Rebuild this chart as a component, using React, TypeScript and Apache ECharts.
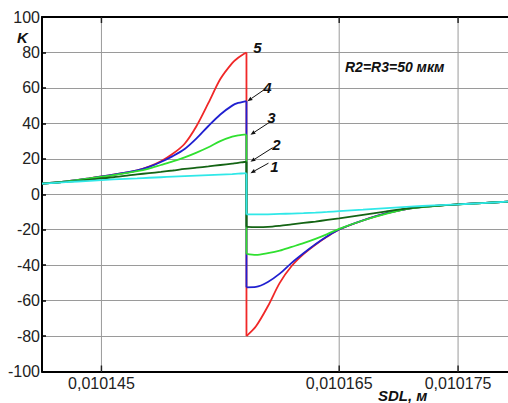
import React, { useEffect, useRef } from "react";
import * as echarts from "echarts";

// x positions (SDL, m)
const xLeft = [0.01014, 0.010142, 0.010144, 0.010146, 0.010148, 0.010149, 0.01015, 0.010151, 0.010152, 0.010153, 0.010154, 0.010155, 0.010156, 0.0101565, 0.010157, 0.0101572];
const xRight = [0.0101572, 0.010158, 0.010159, 0.01016, 0.010161, 0.010162, 0.010163, 0.010164, 0.010165, 0.010167, 0.010169, 0.010171, 0.010173, 0.010175, 0.010177, 0.0101792];
const xJump = 0.0101572;

// curve values (K)
const k5Left = [6, 7.2, 9.0, 11.0, 13.5, 15.6, 18.6, 22.8, 28.5, 38.5, 51.5, 65.0, 74, 77, 79.3, 80];
const k5Right = [-80, -74.5, -63.2, -50.0, -40.5, -33.8, -28.5, -23.9, -19.9, -14.8, -10.7, -7.9, -6.6, -5.7, -5.0, -4.2];
const k4Left = [6, 7.2, 9.0, 11.0, 13.4, 15.4, 18.2, 21.5, 25.5, 31.5, 38.5, 45, 50, 51.5, 52.3, 52.5];
const k4Right = [-52.5, -52.3, -49.5, -44.8, -38.7, -33.3, -28.2, -23.7, -19.8, -14.7, -10.7, -7.9, -6.6, -5.7, -5.0, -4.2];
const k3Left = [6, 7.2, 9.0, 10.8, 13.0, 14.5, 16.5, 18.5, 20.8, 23.5, 26.5, 30.0, 32.5, 33.2, 33.6, 33.6];
const k3Right = [-33.6, -34.2, -33.2, -31.8, -29.7, -27.6, -25.2, -22.5, -19.5, -14.8, -10.9, -8.0, -6.7, -5.7, -5.0, -4.2];
const k2Left = [6, 7.0, 8.3, 9.6, 11.2, 11.9, 12.6, 13.4, 14.3, 15.0, 15.7, 16.5, 17.3, 17.7, 18.2, 18.3];
const k2Right = [-18.4, -18.5, -18.4, -17.8, -17.0, -16.2, -15.4, -14.5, -13.6, -11.6, -9.6, -7.8, -6.6, -5.7, -5.0, -4.2];
const k1Left = [6, 6.8, 7.6, 8.4, 9.0, 9.3, 9.6, 9.9, 10.2, 10.5, 10.8, 11.1, 11.4, 11.6, 11.8, 11.9];
const k1Right = [-11.4, -11.4, -11.3, -11.1, -10.9, -10.7, -10.4, -10.0, -9.5, -8.7, -7.8, -7.0, -6.3, -5.7, -5.0, -4.2];

const curveNames = ["5", "4", "3", "2", "1"];
const curveLeft = [k5Left, k4Left, k3Left, k2Left, k1Left];
const curveRight = [k5Right, k4Right, k3Right, k2Right, k1Right];
const curveColors = ["#f02828", "#2020d0", "#30e030", "#146414", "#30e8e8"];

// axis ticks
const xTickLabels = [0.010145, 0.010165, 0.010175];
const yTicks = [-100, -80, -60, -40, -20, 0, 20, 40, 60, 80, 100];

// annotation anchors (peak value at jump) + pixel offsets for label/arrow
const annoValues = [80, 52.5, 33.6, 18.3, 11.9];
const annoLabelOff = [[11, -5], [21, -14], [25, -17], [30, -17], [28, -7]];
const annoArrowStart = [null, [17, -11], [24, -13], [26, -14], [22, -10]];
const annoArrowEnd = [null, [1, 0], [4, 0], [4, 0], [4, 0]];

const FONT = "'Liberation Sans', Arial, sans-serif";

export default function App() {
  const ref = useRef<HTMLDivElement>(null);
  useEffect(() => {
    if (!ref.current) return;
    const chart = echarts.init(ref.current, null, { renderer: "svg" });
    const series: any[] = [];
    // vertical grid lines at labelled x ticks
    xTickLabels.forEach((v) => {
      series.push({
        type: "line",
        silent: true,
        symbol: "none",
        lineStyle: { color: "#9a9a9a", width: 1 },
        data: [
          [v, -100],
          [v, 100],
        ],
        z: 1,
      });
    });
    curveNames.forEach((n, i) => {
      const common = {
        type: "line",
        showSymbol: false,
        symbol: "none",
        silent: true,
        lineStyle: { color: curveColors[i], width: 1.8 },
        z: 3 + i,
      };
      series.push({
        ...common,
        name: n,
        smooth: 0.3,
        data: xLeft.map((x, j) => [x, curveLeft[i][j]]),
      });
      series.push({
        ...common,
        data: [
          [xJump, curveLeft[i][curveLeft[i].length - 1]],
          [xJump, curveRight[i][0]],
        ],
      });
      series.push({
        ...common,
        smooth: 0.3,
        data: xRight.map((x, j) => [x, curveRight[i][j]]),
      });
    });
    // small inward tick marks on top/bottom
    series.push({
      type: "scatter",
      silent: true,
      symbol: "rect",
      symbolSize: [1.5, 6],
      itemStyle: { color: "#000" },
      data: [
        ...xTickLabels.map((v) => ({ value: [v, -100], symbolOffset: [0, -3] })),
        ...xTickLabels.map((v) => ({ value: [v, 100], symbolOffset: [0, 3] })),
      ],
      z: 10,
    });

    chart.setOption({
      animation: false,
      backgroundColor: "#ffffff",
      grid: { left: 42, right: 0, top: 17, bottom: 31.5, containLabel: false },
      xAxis: [
        {
          type: "value",
          min: 0.01014,
          max: 0.0101792,
          interval: 0.000005,
          axisLine: { show: true, onZero: false, lineStyle: { color: "#000", width: 2 } },
          axisTick: { show: false },
          splitLine: { show: false },
          axisLabel: {
            color: "#222",
            fontFamily: FONT,
            fontSize: 16,
            margin: 4,
            showMinLabel: false,
            showMaxLabel: false,
            formatter: (v: number) =>
              xTickLabels.some((t) => Math.abs(t - v) < 1e-9) ? v.toFixed(6).replace(".", ",") : "",
          },
        },
        {
          type: "value",
          position: "top",
          min: 0.01014,
          max: 0.0101792,
          axisLine: { show: true, onZero: false, lineStyle: { color: "#000", width: 2 } },
          axisTick: { show: false },
          axisLabel: { show: false },
          splitLine: { show: false },
        },
      ],
      yAxis: {
        type: "value",
        min: -100,
        max: 100,
        interval: 20,
        axisLine: { show: true, onZero: false, lineStyle: { color: "#000", width: 2 } },
        axisTick: { show: true, inside: true, length: 4, lineStyle: { color: "#000", width: 1.5 } },
        splitLine: { show: true, lineStyle: { color: "#9a9a9a", width: 1 } },
        axisLabel: {
          color: "#222",
          fontFamily: FONT,
          fontSize: 16,
          margin: 2,
          formatter: (v: number) => (yTicks.includes(v) ? String(v) : ""),
        },
      },
      series,
    });

    const gfx: any[] = [
      {
        type: "text",
        left: 17,
        top: 30,
        style: { text: "K", font: `italic bold 15px ${FONT}`, fill: "#111" },
      },
      {
        type: "text",
        left: 345,
        top: 60,
        style: { text: "R2=R3=50 мкм", font: `italic bold 14px ${FONT}`, fill: "#111" },
      },
      {
        type: "text",
        left: 378,
        top: 388,
        style: { text: "SDL, м", font: `italic bold 15px ${FONT}`, fill: "#111" },
      },
    ];
    annoValues.forEach((v, i) => {
      const p = chart.convertToPixel({ gridIndex: 0 }, [xJump, v]) as number[];
      gfx.push({
        type: "text",
        x: p[0] + annoLabelOff[i][0],
        y: p[1] + annoLabelOff[i][1],
        style: {
          text: curveNames[i],
          font: `italic bold 15px ${FONT}`,
          fill: "#111",
          align: "center",
          verticalAlign: "middle",
        },
        z: 20,
      });
      const s = annoArrowStart[i];
      const e = annoArrowEnd[i];
      if (s && e) {
        const x1 = p[0] + s[0], y1 = p[1] + s[1];
        const x2 = p[0] + e[0], y2 = p[1] + e[1];
        const dx = x2 - x1, dy = y2 - y1;
        const len = Math.hypot(dx, dy);
        const ux = dx / len, uy = dy / len;
        const hl = 5, hw = 2;
        const bx = x2 - ux * hl, by = y2 - uy * hl;
        gfx.push({
          type: "line",
          shape: { x1, y1, x2: bx, y2: by },
          style: { stroke: "#111", lineWidth: 1 },
          z: 20,
        });
        gfx.push({
          type: "polygon",
          shape: {
            points: [
              [x2, y2],
              [bx - uy * hw, by + ux * hw],
              [bx + uy * hw, by - ux * hw],
            ],
          },
          style: { fill: "#111" },
          z: 20,
        });
      }
    });
    chart.setOption({ graphic: gfx });
    return () => chart.dispose();
  }, []);
  return (
    <div
      ref={ref}
      style={{ position: "absolute", left: 0, top: 0, width: 508, height: 403 }}
    />
  );
}
